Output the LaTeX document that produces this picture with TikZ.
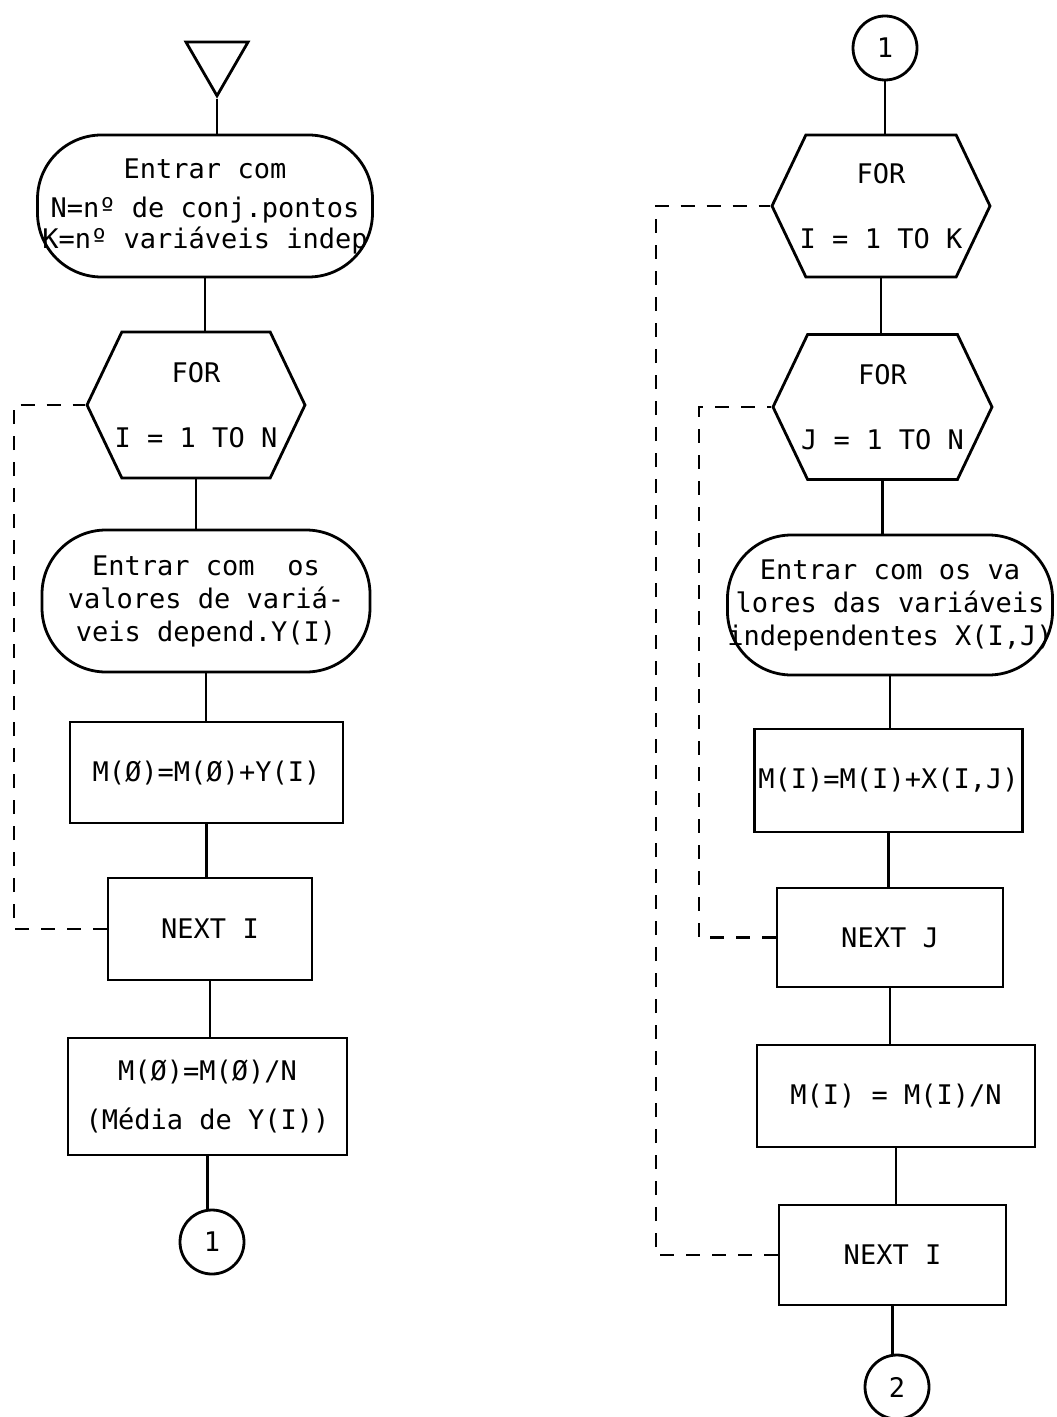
\documentclass[tikz,border=0pt]{standalone}
\usepackage{fontspec}
\newfontfamily\typer{DejaVu Sans Mono}
\usetikzlibrary{shapes.misc,shapes.symbols,shapes.geometric}

\begin{document}
\begin{tikzpicture}[
            x=0.5pt, y=-0.5pt,
            every node/.style={font=\typer\fontsize{13.5}{16.5}\selectfont},
            io/.style={rectangle, draw, line width=1.4pt, rounded corners=32pt, align=center, inner sep=0pt},
            forhex/.style={signal, signal to=west and east, signal pointer angle=129, draw, line width=1.4pt, align=center, inner sep=0pt},
            proc/.style={rectangle, draw, line width=1.4pt, align=center, inner sep=2pt},
            conn/.style={circle, draw, line width=1.4pt, minimum size=32pt, inner sep=0pt},
            flow/.style={line width=1.4pt},
            back/.style={line width=1.1pt, dash pattern=on 7pt off 6pt},
        ]
            \useasboundingbox (0,0) rectangle (1056,1417);

            % Media da variavel dependente
            \node[regular polygon, regular polygon sides=3, shape border rotate=180, draw, line width=1.4pt, minimum size=35.8pt, inner sep=0pt] (start) at (217,60) {};
            \coordinate (apex) at (start.corner 1);
            \node[io, minimum width=167.5pt, minimum height=71pt] (in1) at (205,206) {Entrar com\\[3pt]N=nº de conj.pontos\\[-1pt]K=nº variáveis indep};
            \node[forhex, minimum width=109pt, minimum height=73pt] (forI) at (196,405) {FOR\\[16pt]\makebox[70pt]{I = 1 TO N}};
            \node[io, minimum width=164pt, minimum height=71pt] (in2) at (206,601) {Entrar com~~os\\valores de variá-\\veis depend.Y(I)};
            \node[proc, minimum width=136.5pt, minimum height=50.5pt] (sum0) at (206.5,772.5) {M(Ø)=M(Ø)+Y(I)};
            \node[proc, minimum width=102pt, minimum height=51pt] (nextI) at (210,929) {NEXT I};
            \node[proc, minimum width=139.5pt, minimum height=58.5pt] (avg0) at (207.5,1096.5) {M(Ø)=M(Ø)/N\\[8pt](Média de Y(I))};
            \node[conn] (c1) at (212,1242) {1};

            \draw[flow] (apex) -- (apex |- in1.north);
            \draw[flow] (in1.south) -- (in1.south |- forI.north);
            \draw[flow] (forI.south) -- (forI.south |- in2.north);
            \draw[flow] (in2.south) -- (in2.south |- sum0.north);
            \draw[flow] (sum0.south) -- (sum0.south |- nextI.north);
            \draw[flow] (nextI.south) -- (nextI.south |- avg0.north);
            \draw[flow] (avg0.south) -- (avg0.south |- c1.north);
            \draw[back] (nextI.west) -- ++(-93,0) |- (forI.west);

            % Medias das variaveis independentes
            \node[conn] (c1b) at (885,48) {1};
            \node[forhex, minimum width=109pt, minimum height=71pt] (forK) at (881,206) {FOR\\[16pt]\makebox[70pt]{I = 1 TO K}};
            \node[forhex, minimum width=109.5pt, minimum height=72.5pt] (forJ) at (882.5,407) {FOR\\[16pt]\makebox[70pt]{J = 1 TO N}};
            \node[io, minimum width=162.5pt, minimum height=70pt] (in3) at (890,605) {Entrar com os va\\lores das variáveis\\independentes X(I,J)};
            \node[proc, minimum width=133.5pt, minimum height=51.5pt] (sumJ) at (888.5,780.5) {M(I)=M(I)+X(I,J)};
            \node[proc, minimum width=113pt, minimum height=49.5pt] (nextJ) at (890,937.5) {NEXT J};
            \node[proc, minimum width=139pt, minimum height=51pt] (avgI) at (896,1096) {M(I) = M(I)/N};
            \node[proc, minimum width=113.5pt, minimum height=50pt] (nextI2) at (892.5,1255) {NEXT I};
            \node[conn] (c2) at (897,1387) {2};

            \draw[flow] (c1b.south) -- (c1b.south |- forK.north);
            \draw[flow] (forK.south) -- (forK.south |- forJ.north);
            \draw[flow] (forJ.south) -- (forJ.south |- in3.north);
            \draw[flow] (in3.south) -- (in3.south |- sumJ.north);
            \draw[flow] (sumJ.south) -- (sumJ.south |- nextJ.north);
            \draw[flow] (nextJ.south) -- (nextJ.south |- avgI.north);
            \draw[flow] (avgI.south) -- (avgI.south |- nextI2.north);
            \draw[flow] (nextI2.south) -- (nextI2.south |- c2.north);
            \draw[back] (nextJ.west) -- ++(-77,0) |- (forJ.west);
            \draw[back] (nextI2.west) -- ++(-122,0) |- (forK.west);
        \end{tikzpicture}
\end{document}
